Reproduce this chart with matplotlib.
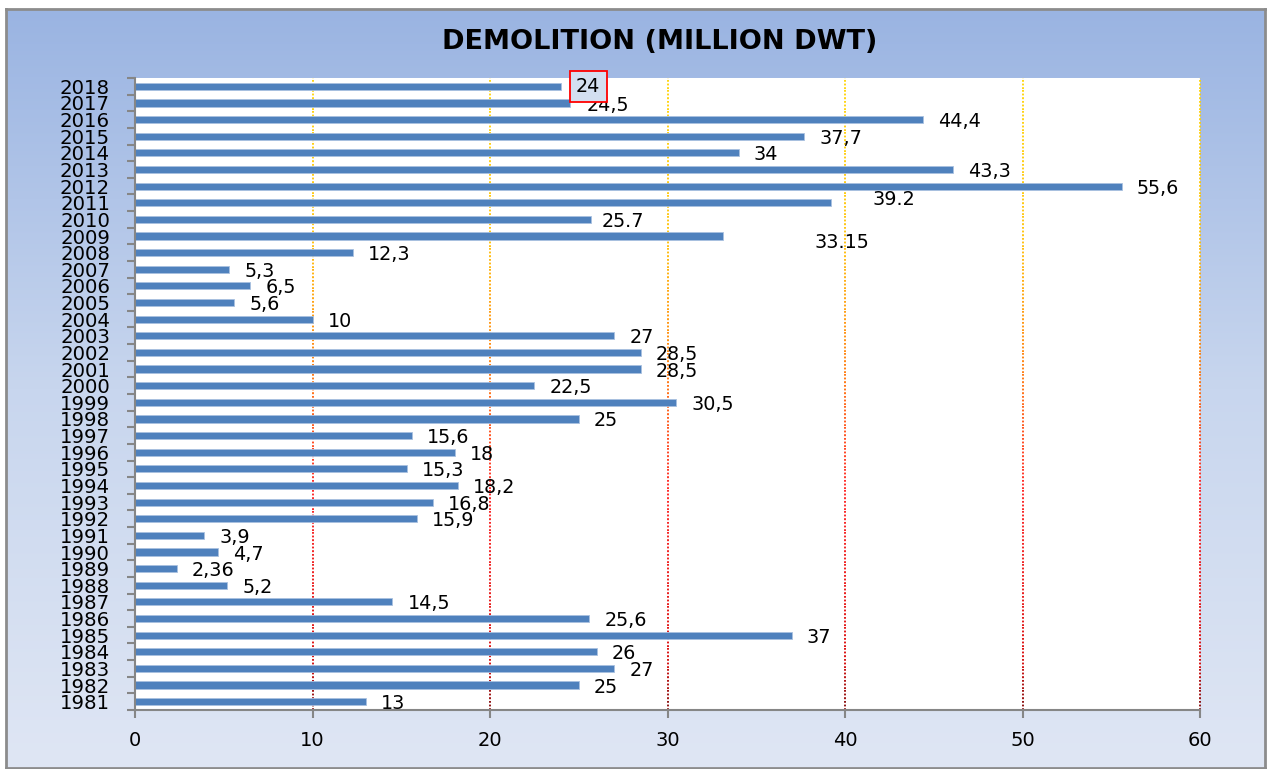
import numpy as np
import matplotlib
matplotlib.use('Agg')
import matplotlib.pyplot as plt
from matplotlib.collections import LineCollection
from matplotlib.colors import LinearSegmentedColormap

# demolition per year (million dwt), bars
years = [str(y) for y in range(1981, 2019)]
demolition = [13, 25, 27, 26, 37, 25.6, 14.5, 5.2, 2.36, 4.7,
              3.9, 15.9, 16.8, 18.2, 15.3, 18, 15.6, 25, 30.5, 22.5,
              28.5, 28.5, 27, 10, 5.6, 6.5, 5.3, 12.3, 33.1, 25.7,
              39.2, 55.6, 46.1, 34, 37.7, 44.4, 24.5, 24]
# labels as printed on the chart (not always equal to the bar)
value_labels = ['13', '25', '27', '26', '37', '25,6', '14,5', '5,2', '2,36', '4,7',
                '3,9', '15,9', '16,8', '18,2', '15,3', '18', '15,6', '25', '30,5', '22,5',
                '28,5', '28,5', '27', '10', '5,6', '6,5', '5,3', '12,3', '33.15', '25.7',
                '39.2', '55,6', '43,3', '34', '37,7', '44,4', '24,5', '24']
x_ticks = [0, 10, 20, 30, 40, 50, 60]

# label offsets in pixels (dx, dy); default used for the rest
label_offsets = {'2018': (15, 0), '2017': (17, -3), '2011': (42, 3),
                 '2009': (92, -6), '2010': (10, -2)}

W, H = 1268, 769
fig = plt.figure(figsize=(W / 100, H / 100), dpi=100)
fig.patch.set_facecolor('white')

# chart area with the blue gradient
bx0, by0, bx1, by1 = 6, 9, 1265, 768
bg = fig.add_axes([bx0 / W, 1 - by1 / H, (bx1 - bx0) / W, (by1 - by0) / H], zorder=0)
grad_cmap = LinearSegmentedColormap.from_list('bg', ['#DFE6F4', '#C8D6EE', '#9AB4E2'])
grad = np.linspace(0, 1, 256).reshape(-1, 1)
bg.imshow(grad, aspect='auto', cmap=grad_cmap, origin='lower', extent=[0, 1, 0, 1])
bg.set_xlim(0, 1)
bg.set_ylim(0, 1)
bg.set_xticks([])
bg.set_yticks([])
for s in bg.spines.values():
    s.set_color('#8C8C8C')
    s.set_linewidth(2)

fig.text(660 / W, 1 - 42 / H, 'DEMOLITION (MILLION DWT)', ha='center', va='center',
         fontsize=19.5, fontweight='bold', color='black')

# plot area
ax = fig.add_axes([135 / W, 1 - 710 / H, (1200 - 135) / W, (710 - 78) / H], zorder=1)
ax.set_facecolor('white')
pos = np.arange(len(years))
ax.barh(pos, demolition, height=0.43, color='#4F81BD', edgecolor='#A9C1E0',
        linewidth=0.6, zorder=3)

ax.set_xlim(0, 60)
ax.set_ylim(-0.5, len(years) - 0.5)

# gradient dotted gridlines (yellow at top fading to dark red at the bottom)
grid_cmap = LinearSegmentedColormap.from_list(
    'grid', [(0, '#7A0000'), (0.08, '#D80000'), (0.35, '#FF1A1A'),
             (0.55, '#FF7A00'), (0.75, '#FFC000'), (1.0, '#FFD400')])
nseg = 60
edges = np.linspace(-0.5, len(years) - 0.5, nseg + 1)
segs, cols = [], []
for xv in x_ticks[1:]:
    for i in range(nseg):
        segs.append([(xv, edges[i]), (xv, edges[i + 1])])
        cols.append(grid_cmap((i + 0.5) / nseg))
lc = LineCollection(segs, colors=cols, linewidths=1.3, linestyles=(0, (1, 1)),
                    zorder=2, clip_on=False)
ax.add_collection(lc)

# value labels
for i, (yr, v, lab) in enumerate(zip(years, demolition, value_labels)):
    dx, dy = label_offsets.get(yr, (15, -2))
    kw = {}
    if yr == '2018':
        kw['bbox'] = dict(boxstyle='square,pad=0.32', fc='#D3DFF1', ec='#FF0000', lw=1.3)
    ax.annotate(lab, xy=(v, i), xytext=(dx, dy), textcoords='offset pixels',
                ha='left', va='center', fontsize=13.8, color='black', zorder=4, **kw)

# axes styling
for side in ['top', 'right']:
    ax.spines[side].set_visible(False)
for side in ['left', 'bottom']:
    ax.spines[side].set_color('#868686')
    ax.spines[side].set_linewidth(1.5)
    ax.spines[side].set_zorder(5)

ax.set_yticks(pos)
ax.set_yticklabels(years)
ax.set_yticks(np.arange(-0.5, len(years)), minor=True)
ax.tick_params(axis='y', which='major', length=0, pad=18, labelsize=14.2)
ax.tick_params(axis='y', which='minor', length=6, width=1.5, color='#868686', direction='out')
ax.set_xticks(x_ticks)
ax.tick_params(axis='x', which='major', length=6, width=1.5, color='#868686',
               direction='out', pad=9, labelsize=14)

plt.savefig('out.png', dpi=100)
